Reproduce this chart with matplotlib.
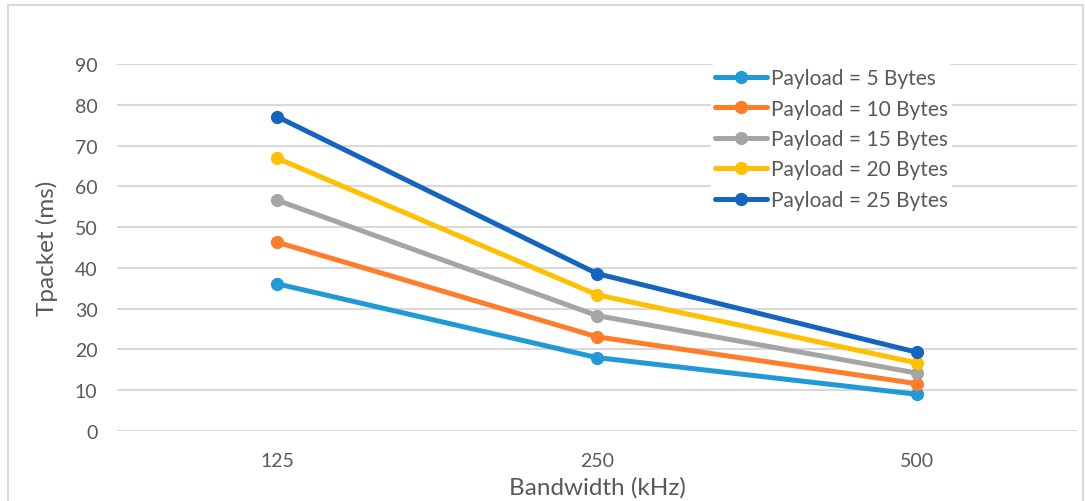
import matplotlib.pyplot as plt
from matplotlib.patches import Rectangle

bandwidths = ['125', '250', '500']
payload_5 = [36.1, 18.0, 9.0]
payload_10 = [46.3, 23.1, 11.6]
payload_15 = [56.6, 28.3, 14.2]
payload_20 = [66.9, 33.4, 16.7]
payload_25 = [77.1, 38.6, 19.3]
labels = ['Payload = 5 Bytes', 'Payload = 10 Bytes', 'Payload = 15 Bytes',
          'Payload = 20 Bytes', 'Payload = 25 Bytes']
colors = ['#1F9AD6', '#FF7C2A', '#A5A5A5', '#FFC000', '#1565C0']

plt.rcParams['font.family'] = ['Lato', 'DejaVu Sans']

fig = plt.figure(figsize=(10.85, 5.02), dpi=100)
# outer chart border (bottom edge runs off the image)
fig.patches.append(Rectangle((8 / 1085, -0.05), 1075 / 1085, 1.05 - 6 / 502,
                             transform=fig.transFigure, fill=False,
                             edgecolor='#D9D9D9', linewidth=1.5))
ax = fig.add_axes([117 / 1085, 70 / 502, 960 / 1085, 367 / 502])

series = [payload_5, payload_10, payload_15, payload_20, payload_25]
x = list(range(len(bandwidths)))
for vals, lab, col in zip(series, labels, colors):
    ax.plot(x, vals, color=col, linewidth=3.6, marker='o', markersize=8.5,
            label=lab, solid_capstyle='round')

ax.set_xlim(-0.5, 2.5)
ax.set_ylim(0, 90)
ax.set_yticks(range(0, 91, 10))
ax.set_xticks(x)
ax.set_xticklabels(bandwidths)
ax.grid(axis='y', color='#D9D9D9', linewidth=1.5)
ax.set_axisbelow(True)
for s in ax.spines.values():
    s.set_visible(False)
ax.tick_params(length=0, labelsize=14, labelcolor='#595959', pad=14)
ax.tick_params(axis='x', pad=15)
ax.set_xlabel('Bandwidth (kHz)', fontsize=17.5, color='#595959', labelpad=5)
ax.set_ylabel('Tpacket (ms)', fontsize=17.5, color='#595959', labelpad=12)

leg = ax.legend(loc='upper left', bbox_to_anchor=(0.619, 1.0), frameon=True,
                fontsize=15, labelcolor='#595959', handlelength=2.5,
                handletextpad=0.15, labelspacing=0.5, borderaxespad=0,
                borderpad=0.2)
leg.get_frame().set_edgecolor('none')
leg.get_frame().set_facecolor('white')
leg.get_frame().set_alpha(1)

fig.savefig('out.png', dpi=100)
